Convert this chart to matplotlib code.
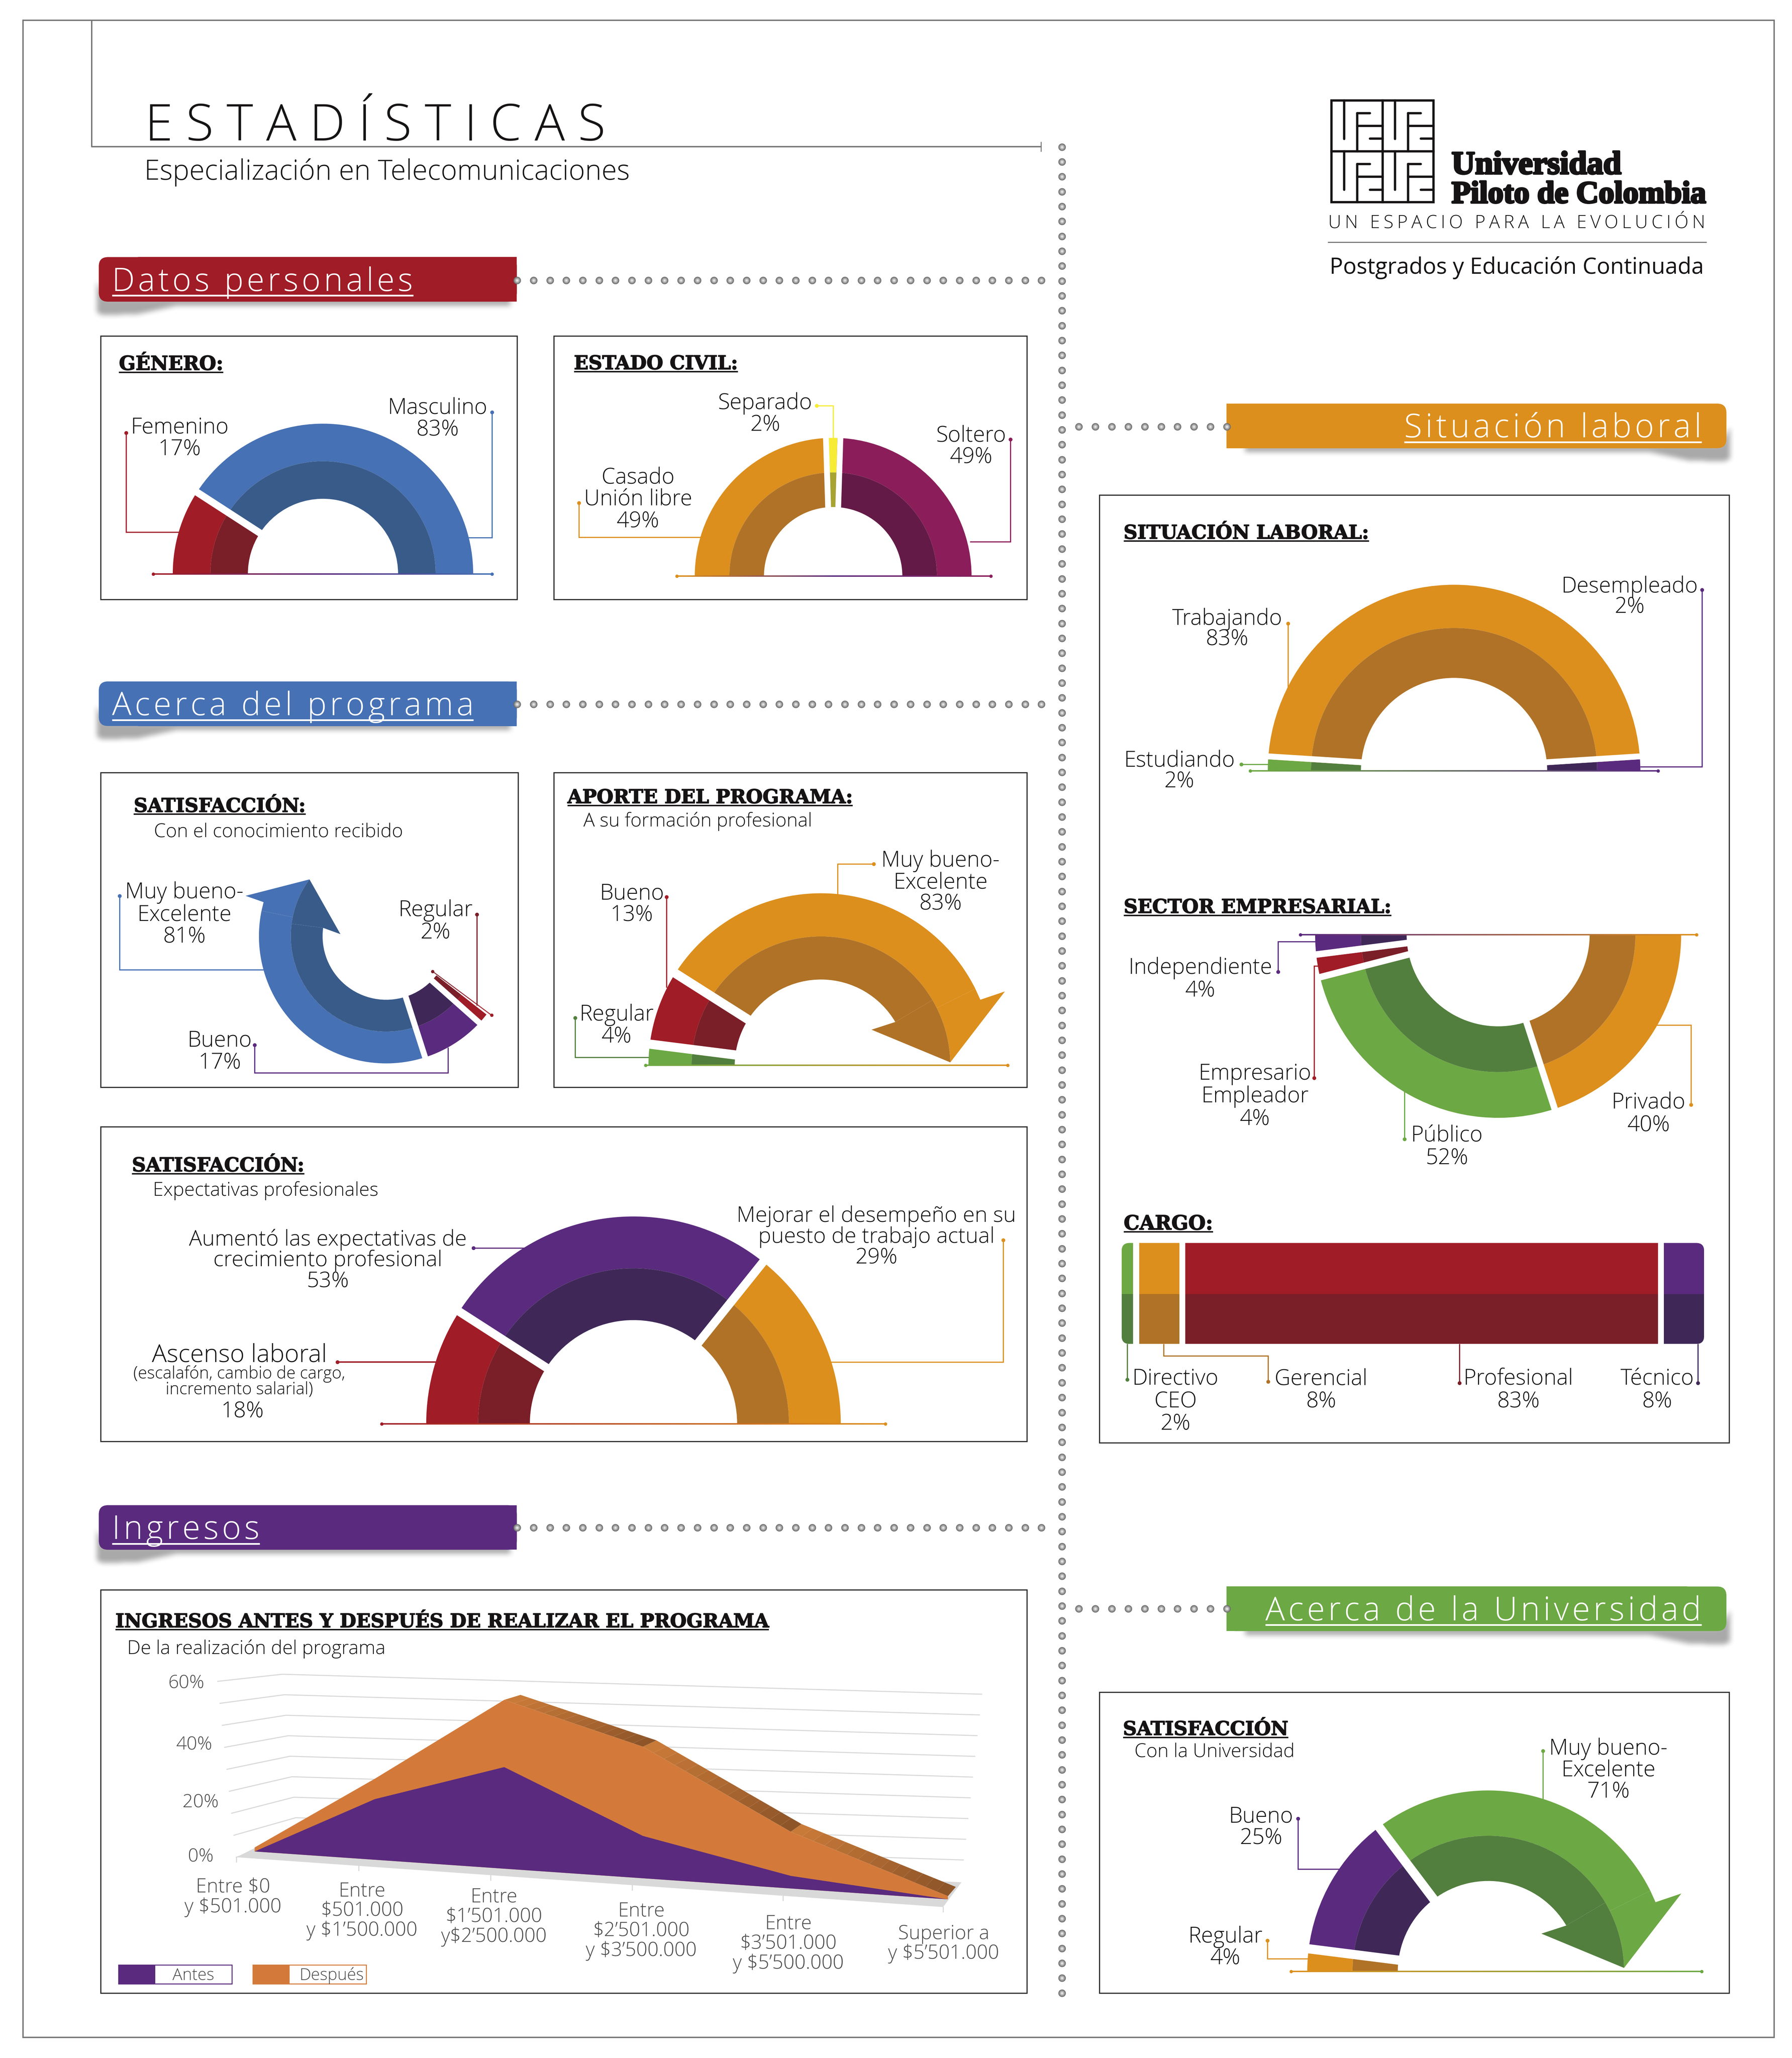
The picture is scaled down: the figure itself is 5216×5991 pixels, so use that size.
import numpy as np
import matplotlib
matplotlib.use('Agg')
import matplotlib.pyplot as plt
from matplotlib.patches import Wedge, Polygon, Rectangle, FancyBboxPatch
from matplotlib.path import Path
from matplotlib.collections import LineCollection
from matplotlib.colors import LinearSegmentedColormap, to_rgb
import matplotlib.patheffects as pe

# slice shares as drawn, in the order they run around each half ring
GENERO = [18.3, 81.7]
ESTADO_CIVIL = [49, 2, 49]
SITUACION = [2, 96, 2]
SECTOR = [4, 4, 52, 40]
CARGO = [2, 8, 83, 8]
CONOCIMIENTO = [2, 17, 81]
APORTE = [4, 14, 82]
EXPECTATIVAS = [18.2, 53.3, 28.5]
UNIVERSIDAD = [4, 25.4, 70.6]

INGRESOS_ANTES = [0, 20.8, 34, 13.8, 4, 0]
INGRESOS_DESPUES = [1.4, 27.8, 56.5, 42.9, 18, 1]
INGRESOS_CAT = ['Entre $0\ny $501.000', 'Entre\n$501.000\ny $1’500.000', 'Entre\n$1’501.000\ny$2’500.000',
                'Entre\n$2’501.000\ny $3’500.000', 'Entre\n$3’501.000\ny $5’500.000', 'Superior a\ny $5’501.000']
INGRESOS_TICKS = ['60%', '40%', '20%', '0%']

RED, RED_D = '#a01c26', '#7a1e28'
BLUE, BLUE_D = '#4671b4', '#385b8a'
ORANGE, ORANGE_D = '#dc8f1d', '#b07226'
PURPLE, PURPLE_D = '#5a2a7e', '#3f2858'
MAGENTA, MAGENTA_D = '#8b1e5a', '#631a46'
GREEN, GREEN_D = '#6ca843', '#527f3d'
YELLOW, YELLOW_D = '#f7ec35', '#a8a431'
COPPER = '#d37a3b'
INK = '#161314'

W = 1366.0
H = W * 5991 / 5216
PX = 5216 / W          # output pixels per layout unit
PT = PX * 72 / 100     # points per layout unit

BODY = ['Open Sans', 'DejaVu Sans']

fig = plt.figure(figsize=(52.16, 59.91), dpi=100)
ax = fig.add_axes([0, 0, 1, 1])
ax.set_xlim(0, W)
ax.set_ylim(H, 0)
ax.axis('off')
ax.autoscale(False)


def fit(t, width):
    e = t.get_window_extent(fig.canvas.get_renderer()).width
    t.set_fontsize(t.get_fontsize() * width * PX / e)


def label(x, y, s, dy=16.6, size=46, color=INK, weight='light', ha='center'):
    for i, line in enumerate(s.split('\n')):
        ax.text(x, y + i * dy + size / PT * 0.35, line, fontsize=size, color=color, ha=ha, va='baseline',
                family=BODY, weight=weight)


def heading(x, y, s, width):
    t = ax.text(x, y, s, fontsize=30, color=INK, ha='left', va='baseline', family='DejaVu Serif', weight='bold',
                path_effects=[pe.withStroke(linewidth=1.5, foreground=INK)])
    fit(t, width)
    ax.plot([x, x + width], [y + 1.8, y + 1.8], color=INK, lw=3, solid_capstyle='butt')


def panel(x0, y0, x1, y1):
    ax.add_patch(Rectangle((x0, y0), x1 - x0, y1 - y0, fc='none', ec='#2b2b2b', lw=2.4))


def spheres(xs, ys):
    for frac, col in [(1.0, '#6a6a6a'), (0.86, '#878787'), (0.66, '#a6a6a6'), (0.46, '#c6c6c6'), (0.24, '#e6e6e6')]:
        ax.scatter(xs, ys, s=246 * frac ** 2, color=col, linewidths=0, zorder=4)


def soft_shadow(pts, blur=2.2, strength=0.34):
    xs, ys = zip(*pts)
    x0, x1, y0, y1 = min(xs) - 10, max(xs) + 10, min(ys) - 10, max(ys) + 10
    step = 0.5
    gx, gy = np.meshgrid(np.arange(x0, x1, step), np.arange(y0, y1, step))
    mask = Path(pts).contains_points(np.c_[gx.ravel(), gy.ravel()]).reshape(gx.shape).astype(float)
    k = np.ones(int(blur / step) * 2 + 1)
    k = k / k.sum()
    for _ in range(2):
        mask = np.apply_along_axis(lambda r: np.convolve(r, k, mode='same'), 0, mask)
        mask = np.apply_along_axis(lambda r: np.convolve(r, k, mode='same'), 1, mask)
    rgba = np.zeros(mask.shape + (4,))
    rgba[..., 3] = mask * strength
    ax.imshow(rgba, extent=(x0, x1, y1, y0), aspect='auto', interpolation='bilinear', zorder=0.6)


def banner(x0, x1, y0, s, tx0, tx1, color, side='left'):
    y1 = y0 + 34
    mirror = (lambda x: x) if side == 'left' else (lambda x: x0 + x1 - x)
    tail = 5 if side == 'left' else 14
    shadow = [(x0 - 2, y0 + 18), (x0 - 2, y1 + 8), (x0 + 3, y1 + 10), (x0 + 30, y1 + 9), (x0 + 58, y1 + 3),
              (x1 - tail, y1 + 2.5), (x1 - tail, y1 - 3), (x0 + 5, y1 - 3)]
    soft_shadow([(mirror(a), b) for a, b in shadow])
    ax.add_patch(FancyBboxPatch((x0, y0), x1 - x0, y1 - y0, boxstyle='round,pad=0,rounding_size=7', fc=color,
                                ec='none', zorder=1))
    if side == 'left':
        ax.add_patch(Rectangle((x0 + 30, y0), x1 - x0 - 30, y1 - y0, fc=color, ec='none', zorder=1))
    else:
        ax.add_patch(Rectangle((x0, y0), x1 - x0 - 30, y1 - y0, fc=color, ec='none', zorder=1))
    t = ax.text(tx0, y0 + 25.8, '\u200a'.join(s), fontsize=60, color='white', ha='left', va='baseline',
                family=BODY, weight='light')
    fit(t, tx1 - tx0)
    ax.plot([tx0, tx1], [y0 + 29.3, y0 + 29.3], color='white', lw=3.6, solid_capstyle='butt', zorder=3)


def ring(cx, cy, r_out, r_in, a1, a2, color):
    lo, hi = min(a1, a2), max(a1, a2)
    ax.add_patch(Wedge((cx, cy), r_out, -hi, -lo, width=r_out - r_in, fc=color, ec='none', lw=0))


def polar(cx, cy, r, a):
    return cx + r * np.cos(np.radians(a)), cy - r * np.sin(np.radians(a))


def half_donut(cx, cy, R, values, colors, start=180, sign=-1, gap=5, shifts=None, arrow=False, mid_frac=0.75):
    edges = start + sign * 1.8 * np.concatenate([[0], np.cumsum(values)])
    mid, inner = mid_frac * R, 0.5 * R
    for i, (light, dark) in enumerate(colors):
        a0, a1 = edges[i], edges[i + 1]
        if arrow and i == len(colors) - 1:
            apex = a1 + 1.5
            base = apex + 25
            ring(cx, cy, R, mid, a0, base, light)
            ring(cx, cy, mid, inner, a0, apex + 29, dark)
            # the ring between light and dark runs on as an arc right up to the tip
            arc = [polar(cx, cy, mid, a) for a in np.linspace(apex, apex + 29, 30)]
            arc_base = [polar(cx, cy, mid, a) for a in np.linspace(base, apex, 26)]
            ax.add_patch(Polygon([polar(cx, cy, 1.15 * R, apex + 20.5), polar(cx, cy, R, apex + 21),
                                  polar(cx, cy, R, base)] + arc_base, fc=light, ec='none'))
            ax.add_patch(Polygon(arc + [polar(cx, cy, inner, apex + 29), polar(cx, cy, 0.36 * R, apex + 34)],
                                 fc=dark, ec='none'))
        else:
            ring(cx, cy, R, mid, a0, a1, light)
            ring(cx, cy, mid, inner, a0, a1, dark)
    for i, a in enumerate(edges[1:-1]):
        off = (shifts[i] if shifts else 0) * gap / 2
        tx, ty = -np.sin(np.radians(a)) * sign, np.cos(np.radians(a)) * sign
        p0 = polar(cx, cy, inner - 4, a)
        p1 = polar(cx, cy, R + 4, a)
        ax.plot([p0[0] + off * tx, p1[0] + off * tx], [p0[1] - off * ty, p1[1] - off * ty], color='white',
                lw=gap * PT, solid_capstyle='butt')


def leader(pts, color, lw=2.4):
    xs, ys = zip(*pts)
    ax.plot(xs, ys, color=color, lw=lw, solid_joinstyle='miter', solid_capstyle='butt')
    ax.plot(xs[0], ys[0], 'o', color=color, ms=8, mew=0)


def base_line(x0, x1, y, cols, y1=None, lw=3):
    y1 = y if y1 is None else y1
    cmap = LinearSegmentedColormap.from_list('b', cols)
    n = 120
    xs, ys = np.linspace(x0, x1, n + 1), np.linspace(y, y1, n + 1)
    segs = [[(xs[i], ys[i]), (xs[i + 1], ys[i + 1])] for i in range(n)]
    ax.add_collection(LineCollection(segs, colors=[cmap(i / (n - 1)) for i in range(n)], linewidths=lw))
    ax.plot([x0], [y], 'o', color=cols[0], ms=7, mew=0)
    ax.plot([x1], [y1], 'o', color=cols[-1], ms=7, mew=0)


# page frame and header
ax.add_patch(Rectangle((17.5, 15.5), 1334.9, 1537.7, fc='none', ec='#777777', lw=2.9))
ax.plot([70, 70, 793.5], [15.5, 111.9, 111.9], color='#777777', lw=2.9)
ax.plot([793.5, 793.5], [108.5, 115.3], color='#777777', lw=2)
t = ax.text(110.5, 107, 'E S T A D Í S T I C A S', fontsize=100, color=INK, ha='left', va='baseline', family=BODY,
            weight='light')
fit(t, 351)
t = ax.text(110, 137, 'Especialización en Telecomunicaciones', fontsize=55, color=INK, ha='left', va='baseline',
            family=BODY, weight='light')
fit(t, 370)

# logo
LX, LY, LQ = 1014.9, 76.4, 38.85
for qx in range(2):
    for qy in range(2):
        x0, y0 = LX + qx * LQ, LY + qy * LQ
        for (u0, v0, u1, v1) in [(0.247, 0, 0.247, 0.757), (0.5, 0.25, 0.5, 1), (0.5, 0.25, 0.753, 0.25),
                                 (0.5, 0.5, 1, 0.5), (0.753, 0.753, 1, 0.753)]:
            ax.plot([x0 + u0 * LQ, x0 + u1 * LQ], [y0 + v0 * LQ, y0 + v1 * LQ], color=INK, lw=4.8,
                    solid_capstyle='round')
ax.add_patch(Rectangle((LX, LY), 2 * LQ, 2 * LQ, fc='none', ec=INK, lw=4.8))
ax.plot([LX, LX + 2 * LQ], [LY + LQ, LY + LQ], color=INK, lw=4.8)
ax.plot([LX + LQ, LX + LQ], [LY, LY + 2 * LQ], color=INK, lw=4.8)
for s, y, w in [('Universidad', 132.5, 129.5), ('Piloto de Colombia', 154.6, 194)]:
    t = ax.text(1106.5, y, s, fontsize=60, color=INK, ha='left', va='baseline', family='Liberation Serif',
                weight='bold', path_effects=[pe.withStroke(linewidth=4, foreground=INK)])
    fit(t, w)
t = ax.text(1012.5, 173.7, '\u200a\u200a'.join('UN ESPACIO PARA LA EVOLUCIÓN'), fontsize=30, color=INK, ha='left',
            va='baseline', family=BODY, weight='light')
fit(t, 287)
ax.plot([1012.5, 1300.5], [184.7, 184.7], color='#666666', lw=2)
t = ax.text(1013.5, 208.6, 'Postgrados y Educación Continuada', fontsize=44, color=INK, ha='left', va='baseline',
            family=BODY)
fit(t, 285)

# banners and dotted connectors
banner(75.3, 394, 196, 'Datos personales', 85.4, 315, RED)
banner(75.3, 394, 519.5, 'Acerca del programa', 85.4, 361, BLUE)
banner(75.3, 394, 1147.5, 'Ingresos', 85.4, 198, PURPLE)
banner(935, 1316, 307.7, 'Situación laboral', 1070.4, 1297, ORANGE, side='right')
banner(935, 1316, 1209.5, 'Acerca de la Universidad', 964.4, 1297, GREEN, side='right')

vy = np.arange(112, 1522, 11.35)
spheres(np.full(vy.size, 809.5), vy)
for y in [213.7, 536.9, 1164.7]:
    hx = 394.2 + 12.49 * np.arange(33)
    spheres(hx, np.full(hx.size, y))
for y in [325.3, 1226.5]:
    hx = 822.3 + 12.55 * np.arange(10)
    spheres(hx, np.full(hx.size, y))

# panels
panel(76.8, 256, 394.2, 457)
panel(422.1, 256, 782.8, 457)
panel(76.8, 589, 395, 829)
panel(422.1, 589, 782.8, 829)
panel(76.8, 859, 782.8, 1099)
panel(76.8, 1212, 782.8, 1519.4)
panel(838, 377.5, 1318.2, 1100)
panel(838, 1290, 1318.2, 1519.4)

# Genero
heading(90.7, 282, 'GÉNERO:', 79.5)
half_donut(246.2, 437.5, 114.5, GENERO, [(RED, RED_D), (BLUE, BLUE_D)], gap=5.5)
leader([(96, 330), (96, 405.6), (137, 405.6)], RED)
leader([(375, 314.2), (375, 409.9), (356.6, 409.9)], BLUE)
base_line(116.8, 375, 437.5, [RED, PURPLE, BLUE])
label(137, 324.8, 'Femenino\n17%')
label(333.4, 309.7, 'Masculino\n83%')

# Estado civil
heading(437.5, 281.5, 'ESTADO CIVIL:', 125)
half_donut(635.1, 439.3, 105.5, ESTADO_CIVIL, [(ORANGE, ORANGE_D), (YELLOW, YELLOW_D), (MAGENTA, MAGENTA_D)],
           gap=4.4, shifts=[-1, 1])
leader([(622.5, 309.4), (635.1, 309.4), (635.1, 334)], YELLOW)
leader([(770.3, 335), (770.3, 412.9), (739.3, 412.9)], MAGENTA)
leader([(441.4, 383.4), (441.4, 409.6), (534.4, 409.6)], ORANGE)
base_line(516, 755.3, 439.3, [ORANGE, PURPLE, MAGENTA])
label(583.3, 306, 'Separado\n2%')
label(740.3, 330.8, 'Soltero\n49%')
label(486.4, 363, 'Casado\nUnión libre\n49%')

# Situacion laboral
heading(856.5, 410.7, 'SITUACIÓN LABORAL:', 187)
half_donut(1108.4, 587.8, 142, SITUACION, [(GREEN, GREEN_D), (ORANGE, ORANGE_D), (PURPLE, PURPLE_D)],
           gap=4.5, shifts=[1, -1], mid_frac=0.768)
leader([(981.7, 475.4), (981.7, 524.6)], ORANGE)
leader([(1297.4, 449.7), (1297.4, 584.5), (1250.3, 584.5)], PURPLE)
leader([(946.3, 582.7), (966.5, 582.7)], GREEN)
base_line(953, 1263.8, 587.8, [GREEN, PURPLE])
label(935.4, 470.6, 'Trabajando\n83%', dy=15.5)
label(1242.2, 446, 'Desempleado\n2%', dy=15.5)
label(899, 578.7, 'Estudiando\n2%', dy=15.7)

# Sector empresarial
heading(856.6, 696, 'SECTOR EMPRESARIAL:', 204)
half_donut(1142, 712.7, 139.5, SECTOR, [(PURPLE, PURPLE_D), (RED, RED_D), (GREEN, GREEN_D), (ORANGE, ORANGE_D)],
           sign=1, gap=5, shifts=[-1, -1, 0])
leader([(974.2, 740.8), (974.2, 717.7), (1003.5, 717.7)], PURPLE)
leader([(1001.6, 821.9), (1001.6, 736.4), (1004.8, 736.4)], RED)
leader([(1070.7, 868.5), (1070.7, 832)], GREEN)
leader([(1289, 842.3), (1289, 781.6), (1262.2, 781.6)], ORANGE)
base_line(991.2, 1293.2, 712.7, [PURPLE, ORANGE])
label(915, 736.7, 'Independiente\n4%', dy=17.3)
label(956.6, 817.2, 'Empresario\nEmpleador\n4%', dy=17.4)
label(1102.9, 864.6, 'Público\n52%', dy=17.1)
label(1256.7, 839.5, 'Privado\n40%', dy=17.1)

# Cargo
heading(856.6, 937.4, 'CARGO:', 68)
bar_unit = 444 / sum(CARGO)
lefts = 855 + bar_unit * np.concatenate([[0], np.cumsum(CARGO)[:-1]])
widths = bar_unit * np.array(CARGO, dtype=float)
clip = FancyBboxPatch((855, 947.6), 444, 77, boxstyle='round,pad=0,rounding_size=6', fc='none', ec='none')
ax.add_patch(clip)
for i, (l, c_l, c_d) in enumerate(zip(lefts, [GREEN, ORANGE, RED, PURPLE], [GREEN_D, ORANGE_D, RED_D, PURPLE_D])):
    g = 4.5 if i else 0
    for bars in (ax.barh(967, widths[i] - g, left=l + g, height=38.9, color=c_l),
                 ax.barh(1005.5, widths[i] - g, left=l + g, height=38.1, color=c_d)):
        for b in bars:
            b.set_clip_path(clip)
leader([(859.2, 1051.8), (859.2, 1024.5)], GREEN_D)
leader([(966.7, 1053.2), (966.7, 1033.6), (886.9, 1033.6), (886.9, 1024.5)], ORANGE_D)
leader([(1112.4, 1054.3), (1112.4, 1024.5)], RED_D)
leader([(1294.2, 1054.3), (1294.2, 1024.5)], PURPLE_D)
label(896, 1049.9, 'Directivo\nCEO\n2%', dy=17.2)
label(1007, 1049.9, 'Gerencial\n8%', dy=17.2)
label(1157.3, 1049.9, 'Profesional\n83%', dy=17.2)
label(1263.2, 1049.9, 'Técnico\n8%', dy=17.2)

# Satisfaccion conocimiento
heading(102, 619, 'SATISFACCIÓN:', 131)
label(117.4, 633, 'Con el conocimiento recibido', size=40, ha='left')
half_donut(294.4, 713.7, 97, CONOCIMIENTO, [(RED, RED_D), (PURPLE, PURPLE_D), (BLUE, BLUE_D)], start=322,
           gap=4.5, shifts=[1, 0], arrow=True)
leader([(91.2, 683), (91.2, 739.2), (201.1, 739.2)], BLUE)
leader([(363.4, 697.1), (363.4, 766.6)], RED_D)
leader([(194.1, 796.7), (194.1, 817.8), (341.4, 817.8), (341.4, 798.4)], PURPLE)
base_line(329.8, 374.7, 740.6, [RED_D, RED], y1=774, lw=2)
label(140.5, 679, 'Muy bueno-\nExcelente\n81%', dy=17)
label(332, 692.5, 'Regular\n2%', dy=17.2)
label(167.5, 792, 'Bueno\n17%', dy=17)

# Aporte del programa
heading(432.6, 612.3, 'APORTE DEL PROGRAMA:', 217.4)
label(444.8, 625, 'A su formación profesional', size=40, ha='left')
half_donut(625.8, 812.5, 131.5, APORTE, [(GREEN, GREEN_D), (RED, RED_D), (ORANGE, ORANGE_D)], gap=7, arrow=True)
leader([(666, 658.7), (638.4, 658.7), (638.4, 681.8)], ORANGE)
leader([(508, 683.8), (508, 753)], RED)
leader([(438.3, 776), (438.3, 806), (494.4, 806)], GREEN_D)
base_line(492, 768, 812, [GREEN, ORANGE])
label(717, 655, 'Muy bueno-\nExcelente\n83%', dy=16.4)
label(481.7, 680, 'Bueno\n13%', dy=16.5)
label(470, 772.3, 'Regular\n4%', dy=16.7)

# Satisfaccion expectativas
heading(100.6, 893, 'SATISFACCIÓN:', 131.4)
label(116.5, 906.6, 'Expectativas profesionales', size=40, ha='left')
half_donut(482.9, 1085.4, 158, EXPECTATIVAS, [(RED, RED_D), (PURPLE, PURPLE_D), (ORANGE, ORANGE_D)], gap=6.5)
leader([(361, 951.4), (400, 951.4)], PURPLE)
leader([(764.7, 945.4), (764.7, 1038.3), (632.8, 1038.3)], ORANGE)
leader([(257.3, 1038.3), (332, 1038.3)], RED, lw=3)
base_line(291, 675, 1085.4, [RED, ORANGE])
label(250, 943.7, 'Aumentó las expectativas de\ncrecimiento profesional\n53%', dy=15.9, size=45.5)
label(668, 925.7, 'Mejorar el desempeño en su\npuesto de trabajo actual\n29%', dy=15.9, size=45.5)
label(182.4, 1031.6, 'Ascenso laboral', size=52)
label(182.4, 1046.6, '(escalafón, cambio de cargo,\nincremento salarial)', size=35, dy=11.7)
label(184.8, 1074.7, '18%')

# Satisfaccion universidad
heading(856, 1322.7, 'SATISFACCIÓN', 126)
label(864.7, 1334.4, 'Con la Universidad', size=40, ha='left')
half_donut(1134.5, 1503, 138, UNIVERSIDAD, [(ORANGE, ORANGE_D), (PURPLE, PURPLE_D), (GREEN, GREEN_D)], gap=7,
           arrow=True)
leader([(1176.2, 1334.8), (1176.2, 1372)], GREEN)
leader([(989.5, 1386.5), (989.5, 1425), (1022.1, 1425)], PURPLE)
leader([(966, 1479.3), (966, 1493.2), (997.7, 1493.2)], ORANGE)
base_line(984.3, 1297, 1503, [ORANGE, GREEN])
label(1226, 1331.8, 'Muy bueno-\nExcelente\n71%', dy=16.5)
label(961.2, 1383.7, 'Bueno\n25%', dy=16.3)
label(934, 1475, 'Regular\n4%', dy=16.8)

# Ingresos
heading(88, 1240.6, 'INGRESOS ANTES Y DESPUÉS DE REALIZAR EL PROGRAMA', 498)
label(96.8, 1255.8, 'De la realización del programa', size=40, ha='left')


def perspective(i):
    t = i / (len(INGRESOS_ANTES) - 1)
    return 0.8333 * t + 0.1667 * t * t


def project(i, value, depth=0.0):
    f = perspective(i)
    x = 194.1 + 528.5 * f
    y = 1411.5 + 36.5 * f - value * (2.17 + 0.3 * f)
    return x + depth * (16 - 10 * f), y - depth * (2 + 5 * f)


levels = np.linspace(0, 1, 9)
for s in levels:
    lf = (180.1 - 14.1 * s, 1415.9 - 134.1 * s)
    bk = (226.9 - 11.7 * s, 1401.4 - 125 * s)
    rt = (734.3 + 14 * s, 1418 - 126.4 * s)
    ax.plot([lf[0], bk[0], rt[0]], [lf[1], bk[1], rt[1]], color='#d9d9d9', lw=2.2, zorder=0.5)
ax.add_patch(Polygon([(180.1, 1415.9), (718.9, 1453.9), (732.9, 1435), (194, 1409)], fc='#d9d9d9', ec='none',
                     zorder=0.7))
for i in range(len(INGRESOS_ANTES)):
    f = perspective(i)
    tx, ty = 180.1 + 538.8 * f, 1415.9 + 38 * f
    ax.plot([tx, tx], [ty, ty + 3.6], color='#d9d9d9', lw=2.2, zorder=0.7)

light_r, dark_r = np.array(to_rgb('#c87a38')), np.array(to_rgb('#8a5228'))
for i in range(2, 5):
    for k in range(14):
        a, b = k / 14, (k + 1) / 14
        v0, v1 = INGRESOS_DESPUES[i], INGRESOS_DESPUES[i + 1]
        pts = []
        for frac in (a, b):
            x0, y0 = project(i, v0, 0)
            x1, y1 = project(i + 1, v1, 0)
            pts.append((x0 + (x1 - x0) * frac, y0 + (y1 - y0) * frac))
        for frac in (b, a):
            x0, y0 = project(i, v0, 1)
            x1, y1 = project(i + 1, v1, 1)
            pts.append((x0 + (x1 - x0) * frac, y0 + (y1 - y0) * frac))
        ax.add_patch(Polygon(pts, fc=light_r + (dark_r - light_r) * a, ec='none', zorder=0.9))

for vals, col in [(INGRESOS_DESPUES, COPPER), (INGRESOS_ANTES, PURPLE)]:
    n = len(vals)
    top = [project(i, vals[i]) for i in range(n)]
    bottom = [project(n - 1, 0), project(0, 0)]
    ax.add_patch(Polygon(top + bottom, fc=col, ec='none', zorder=1))

GREY_TXT = '#4d4d4d'
for s, x, y in zip(INGRESOS_TICKS, [142, 148, 153, 153], [1282.2, 1329, 1373, 1414.2]):
    label(x, y, s, size=39, color=GREY_TXT)
for s, x, y in zip(INGRESOS_CAT, [177.7, 276, 376.5, 488.8, 601, 719.3], [1437.6, 1440.4, 1445, 1455.8, 1465.4, 1473]):
    label(x, y, s, size=41, dy=15.1, color=GREY_TXT)

for x0, x1, x2, col, s, cx in [(90.3, 118.3, 176.8, PURPLE, 'Antes', 147.3), (192.7, 220.8, 279.2, COPPER, 'Después', 252.6)]:
    ax.add_patch(Rectangle((x0, 1498), x2 - x0, 14.5, fc='none', ec=col, lw=2))
    ax.add_patch(Rectangle((x0, 1498), x1 - x0, 14.5, fc=col, ec='none'))
    label(cx, 1505, s, size=34.5, color=GREY_TXT)

ax.set_xlim(0, W)
ax.set_ylim(H, 0)
fig.savefig('out.png', dpi=100)
